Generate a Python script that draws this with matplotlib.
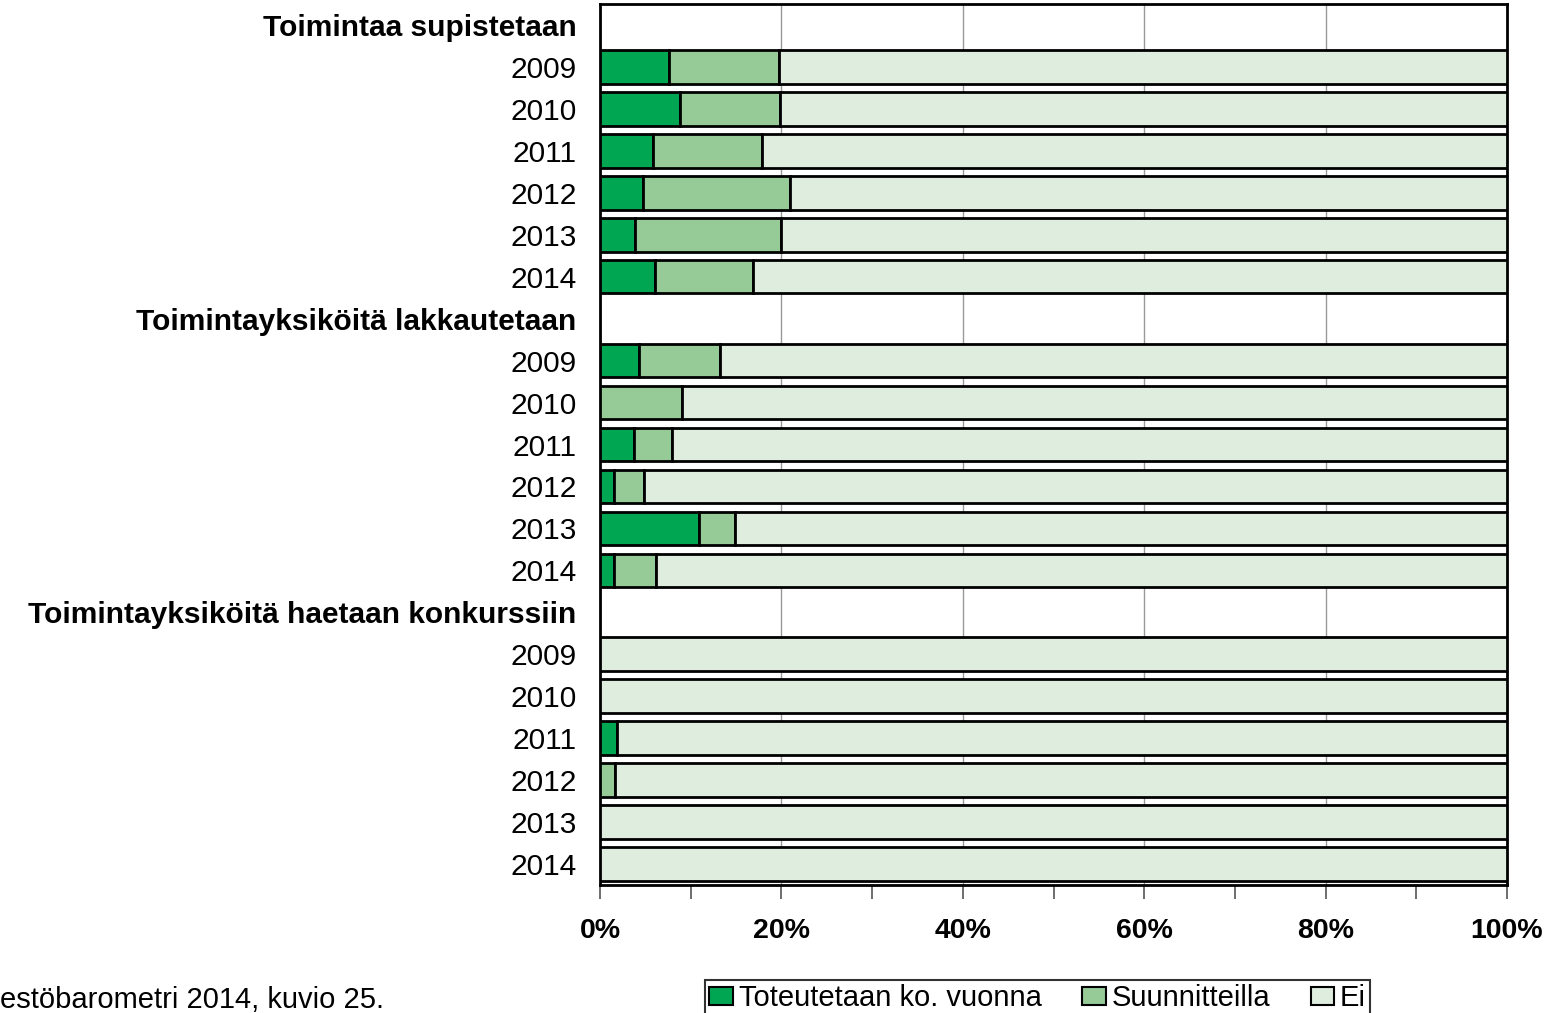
import matplotlib.pyplot as plt
import numpy as np
from matplotlib.ticker import MultipleLocator, PercentFormatter

plt.rcParams['font.family'] = ['Liberation Sans', 'DejaVu Sans']

# Data (%)
groups = ["Toimintaa supistetaan", "Toimintayksiköitä lakkautetaan", "Toimintayksiköitä haetaan konkurssiin"]
years = ["2009", "2010", "2011", "2012", "2013", "2014"]
toteutetaan = [[7.6, 8.8, 5.8, 4.7, 3.9, 6.1],
               [4.3, 0.0, 3.8, 1.5, 10.9, 1.5],
               [0.0, 0.0, 1.9, 0.0, 0.0, 0.0]]
suunnitteilla = [[12.1, 11.1, 12.1, 16.2, 16.1, 10.8],
                 [8.9, 9.0, 4.1, 3.4, 4.0, 4.7],
                 [0.0, 0.0, 0.0, 1.6, 0.0, 0.0]]
series_names = ["Toteutetaan ko. vuonna", "Suunnitteilla", "Ei"]
colors = ["#00A651", "#96CA96", "#DFEDDF"]

# build rows: header row then the years
labels, pos, tot, suu = [], [], [], []
row = 0
header_rows = []
for g in range(len(groups)):
    labels.append(groups[g])
    header_rows.append(row)
    row += 1
    for y in range(len(years)):
        labels.append(years[y])
        pos.append(row)
        tot.append(toteutetaan[g][y])
        suu.append(suunnitteilla[g][y])
        row += 1
tot = np.array(tot)
suu = np.array(suu)
ei = 100 - tot - suu

fig = plt.figure(figsize=(15.53, 10.13), dpi=100)
ax = fig.add_axes([600/1553, 1-885/1013, 907/1553, 881/1013])

vals = [tot, suu, ei]
left = np.zeros(len(pos))
for i in range(3):
    ax.barh(pos, vals[i], left=left, height=0.8, color=colors[i],
            edgecolor="black", linewidth=2, label=series_names[i], zorder=3)
    left = left + vals[i]

ax.set_xlim(0, 100)
ax.set_ylim(row - 0.5, -0.5)
ax.set_yticks(range(row))
ax.set_yticklabels(labels, fontsize=21.5)
for r in header_rows:
    ax.get_yticklabels()[r].set_fontweight("bold")
ax.tick_params(axis="y", length=0, pad=17)

ax.xaxis.set_major_locator(MultipleLocator(20))
ax.xaxis.set_minor_locator(MultipleLocator(10))
ax.xaxis.set_major_formatter(PercentFormatter(decimals=0))
ax.tick_params(axis="x", which="both", direction="out", length=10, width=1.2, color="#555555")
ax.tick_params(axis="x", which="major", pad=14)
for t in ax.get_xticklabels():
    t.set_fontweight("bold")
    t.set_fontsize(20.5)

ax.grid(axis="x", color="#999999", linewidth=1, zorder=0)
for s in ax.spines.values():
    s.set_linewidth(2)
    s.set_color("black")

leg = fig.legend(loc="upper left", bbox_to_anchor=(705/1553, 1-980/1013), ncol=3,
                 fontsize=21, frameon=True, fancybox=False, edgecolor="black",
                 handlelength=0.8, handleheight=0.6, handletextpad=0.2,
                 columnspacing=1.4, borderpad=0.15, borderaxespad=0)
leg.get_frame().set_linewidth(1.5)
for h in leg.legend_handles:
    h.set_linewidth(1.5)

fig.text(0, 1-1000/1013, "estöbarometri 2014, kuvio 25.", ha="left", va="center", fontsize=21)

plt.savefig("out.png", dpi=100)
